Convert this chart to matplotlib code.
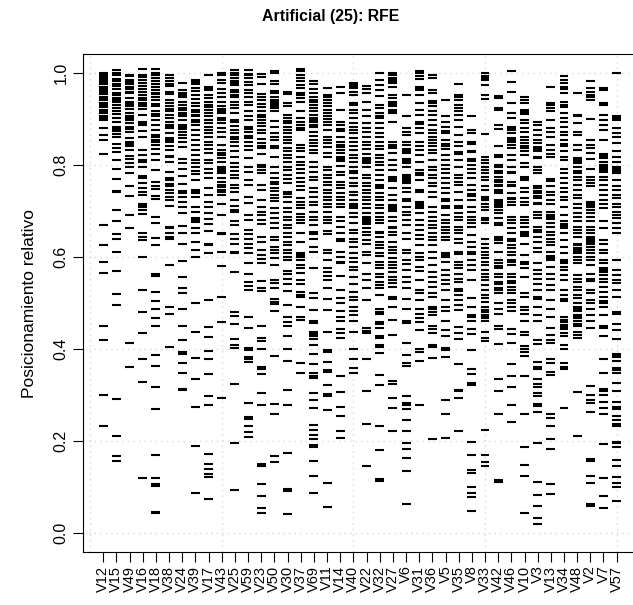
import matplotlib
matplotlib.use("Agg")
import matplotlib.pyplot as plt

plt.rcParams['font.family'] = ['Liberation Sans', 'DejaVu Sans']

title = "Artificial (25): RFE"
ylabel = "Posicionamiento relativo"
variables = ["V12", "V15", "V49", "V16", "V18", "V38", "V24", "V39", "V17", "V43",
             "V25", "V59", "V23", "V50", "V30", "V37", "V69", "V11", "V14", "V40",
             "V22", "V32", "V27", "V6", "V31", "V36", "V5", "V35", "V8", "V33",
             "V42", "V46", "V10", "V3", "V13", "V34", "V48", "V2", "V7", "V57"]
y_ticks = [0.0, 0.2, 0.4, 0.6, 0.8, 1.0]

v12 = [1.0, 0.996, 0.992, 0.988, 0.984, 0.98, 0.975, 0.97, 0.966, 0.962, 0.958, 0.953, 0.948,
       0.944, 0.94, 0.935, 0.93, 0.925, 0.92, 0.916, 0.912, 0.907, 0.902, 0.898, 0.879, 0.865,
       0.854, 0.823, 0.669, 0.626, 0.590, 0.566, 0.450, 0.420, 0.301, 0.232]
v15 = [1.006, 1.0, 0.994, 0.986, 0.981, 0.976, 0.971, 0.964, 0.956, 0.951, 0.946, 0.941, 0.936,
       0.93, 0.923, 0.916, 0.910, 0.901, 0.892, 0.883, 0.878, 0.873, 0.867, 0.861, 0.845, 0.836,
       0.827, 0.811, 0.790, 0.769, 0.744, 0.74, 0.702, 0.677, 0.650, 0.638, 0.610, 0.569, 0.519,
       0.495, 0.291, 0.212, 0.167, 0.156]
v49 = [0.995, 0.992, 0.985, 0.98, 0.975, 0.97, 0.964, 0.959, 0.956, 0.945, 0.937, 0.932, 0.927,
       0.922, 0.912, 0.907, 0.902, 0.897, 0.890, 0.883, 0.878, 0.872, 0.858, 0.85, 0.845, 0.84,
       0.832, 0.819, 0.812, 0.803, 0.795, 0.782, 0.753, 0.732, 0.692, 0.662, 0.414, 0.360]
v16 = [1.008, 0.995, 0.99, 0.985, 0.977, 0.971, 0.964, 0.959, 0.952, 0.946, 0.941, 0.934, 0.929,
       0.927, 0.921, 0.908, 0.894, 0.889, 0.887, 0.874, 0.860, 0.832, 0.821, 0.811, 0.807, 0.795,
       0.776, 0.772, 0.760, 0.749, 0.742, 0.734, 0.716, 0.712, 0.709, 0.702, 0.693, 0.653, 0.644,
       0.637, 0.600, 0.529, 0.480, 0.434, 0.378, 0.328, 0.121]
v18 = [1.008, 0.999, 0.994, 0.988, 0.981, 0.976, 0.970, 0.963, 0.957, 0.953, 0.948, 0.941, 0.932,
       0.927, 0.916, 0.911, 0.905, 0.898, 0.887, 0.876, 0.865, 0.86, 0.855, 0.85, 0.843, 0.834,
       0.823, 0.811, 0.789, 0.763, 0.754, 0.747, 0.732, 0.725, 0.687, 0.673, 0.642, 0.626, 0.563,
       0.559, 0.523, 0.504, 0.487, 0.467, 0.449, 0.388, 0.364, 0.317, 0.269, 0.171, 0.119, 0.106,
       0.103, 0.047, 0.043]
v38 = [0.995, 0.988, 0.981, 0.976, 0.971, 0.959, 0.954, 0.941, 0.934, 0.927, 0.921, 0.916, 0.909,
       0.901, 0.894, 0.887, 0.883, 0.879, 0.869, 0.858, 0.854, 0.85, 0.841, 0.832, 0.82, 0.816,
       0.807, 0.785, 0.771, 0.766, 0.758, 0.753, 0.745, 0.738, 0.731, 0.724, 0.711, 0.666, 0.662,
       0.651, 0.644, 0.639, 0.582, 0.492, 0.477, 0.404]
v24 = [0.977, 0.963, 0.956, 0.952, 0.947, 0.937, 0.930, 0.923, 0.918, 0.913, 0.908, 0.905, 0.898,
       0.887, 0.882, 0.877, 0.872, 0.865, 0.858, 0.850, 0.838, 0.813, 0.803, 0.792, 0.776, 0.758,
       0.744, 0.738, 0.731, 0.720, 0.709, 0.696, 0.667, 0.651, 0.629, 0.591, 0.557, 0.533, 0.521,
       0.486, 0.449, 0.419, 0.394, 0.389, 0.369, 0.349, 0.314, 0.311]
v39 = [0.985, 0.98, 0.975, 0.966, 0.96, 0.952, 0.943, 0.934, 0.927, 0.919, 0.914, 0.909, 0.905,
       0.898, 0.892, 0.887, 0.876, 0.865, 0.854, 0.843, 0.832, 0.821, 0.811, 0.803, 0.795, 0.787,
       0.780, 0.767, 0.746, 0.742, 0.738, 0.731, 0.709, 0.698, 0.684, 0.68, 0.676, 0.662, 0.651,
       0.633, 0.615, 0.600, 0.501, 0.438, 0.380, 0.336, 0.275, 0.190, 0.088]
v17 = [0.995, 0.970, 0.966, 0.963, 0.952, 0.945, 0.937, 0.930, 0.925, 0.919, 0.912, 0.905, 0.898,
       0.890, 0.883, 0.876, 0.869, 0.860, 0.850, 0.843, 0.834, 0.825, 0.811, 0.803, 0.792, 0.782,
       0.771, 0.749, 0.734, 0.720, 0.708, 0.695, 0.682, 0.671, 0.657, 0.629, 0.626, 0.608, 0.506,
       0.447, 0.427, 0.395, 0.378, 0.345, 0.297, 0.278, 0.173, 0.151, 0.140, 0.128, 0.122, 0.075]
v43 = [1.0, 0.996, 0.985, 0.977, 0.964, 0.956, 0.948, 0.937, 0.927, 0.922, 0.917, 0.912, 0.901,
       0.898, 0.890, 0.879, 0.872, 0.860, 0.843, 0.832, 0.826, 0.821, 0.814, 0.807, 0.796, 0.791,
       0.786, 0.782, 0.771, 0.763, 0.756, 0.751, 0.746, 0.742, 0.734, 0.715, 0.692, 0.653, 0.649,
       0.610, 0.580, 0.514, 0.458, 0.293]
v25 = [1.006, 1.0, 0.995, 0.988, 0.983, 0.978, 0.974, 0.963, 0.958, 0.952, 0.947, 0.937, 0.930,
       0.923, 0.912, 0.898, 0.892, 0.885, 0.876, 0.869, 0.861, 0.856, 0.850, 0.841, 0.831, 0.818,
       0.805, 0.796, 0.787, 0.778, 0.771, 0.756, 0.749, 0.742, 0.724, 0.711, 0.702, 0.698, 0.677,
       0.669, 0.650, 0.640, 0.628, 0.611, 0.608, 0.567, 0.480, 0.472, 0.454, 0.421, 0.409, 0.403,
       0.325, 0.195, 0.093]
v59 = [1.006, 0.998, 0.994, 0.988, 0.979, 0.974, 0.963, 0.956, 0.948, 0.937, 0.930, 0.916, 0.905,
       0.898, 0.883, 0.878, 0.872, 0.863, 0.858, 0.850, 0.841, 0.832, 0.814, 0.796, 0.785, 0.767,
       0.756, 0.731, 0.718, 0.690, 0.680, 0.658, 0.650, 0.640, 0.628, 0.619, 0.609, 0.586, 0.564,
       0.545, 0.537, 0.529, 0.469, 0.445, 0.402, 0.398, 0.383, 0.378, 0.372, 0.282, 0.253, 0.249,
       0.234, 0.220, 0.209]
v23 = [0.998, 0.990, 0.976, 0.954, 0.947, 0.940, 0.932, 0.925, 0.916, 0.908, 0.903, 0.898, 0.890,
       0.885, 0.876, 0.869, 0.856, 0.847, 0.840, 0.836, 0.824, 0.8, 0.796, 0.789, 0.783, 0.756,
       0.745, 0.724, 0.709, 0.698, 0.691, 0.680, 0.671, 0.644, 0.633, 0.616, 0.604, 0.595, 0.587,
       0.548, 0.533, 0.526, 0.451, 0.425, 0.417, 0.4, 0.361, 0.357, 0.345, 0.304, 0.278, 0.151,
       0.147, 0.107, 0.080, 0.054, 0.043]
v50 = [1.003, 0.999, 0.981, 0.976, 0.961, 0.956, 0.948, 0.941, 0.937, 0.932, 0.927, 0.923, 0.916,
       0.896, 0.883, 0.870, 0.860, 0.854, 0.841, 0.836, 0.818, 0.796, 0.782, 0.771, 0.763, 0.758,
       0.749, 0.744, 0.734, 0.727, 0.722, 0.706, 0.696, 0.684, 0.673, 0.662, 0.644, 0.637, 0.622,
       0.616, 0.608, 0.597, 0.582, 0.550, 0.544, 0.532, 0.508, 0.503, 0.498, 0.482, 0.386, 0.280,
       0.258, 0.167, 0.154]
v30 = [0.958, 0.954, 0.934, 0.927, 0.908, 0.901, 0.896, 0.890, 0.883, 0.876, 0.870, 0.861, 0.854,
       0.848, 0.836, 0.831, 0.821, 0.814, 0.807, 0.796, 0.789, 0.778, 0.769, 0.760, 0.742, 0.737,
       0.731, 0.720, 0.706, 0.698, 0.687, 0.680, 0.669, 0.662, 0.651, 0.644, 0.633, 0.626, 0.615,
       0.608, 0.599, 0.593, 0.570, 0.563, 0.552, 0.541, 0.527, 0.495, 0.469, 0.458, 0.451, 0.428,
       0.4, 0.375, 0.312, 0.278, 0.175, 0.096, 0.091, 0.041]
v37 = [1.008, 1.004, 0.995, 0.988, 0.981, 0.974, 0.966, 0.957, 0.952, 0.946, 0.937, 0.916, 0.901,
       0.894, 0.887, 0.879, 0.876, 0.843, 0.836, 0.829, 0.818, 0.807, 0.800, 0.792, 0.782, 0.771,
       0.763, 0.754, 0.745, 0.727, 0.720, 0.713, 0.706, 0.693, 0.687, 0.680, 0.673, 0.653, 0.633,
       0.608, 0.604, 0.600, 0.593, 0.582, 0.575, 0.566, 0.550, 0.542, 0.524, 0.517, 0.512, 0.492,
       0.469, 0.464, 0.369, 0.349]
v69 = [0.981, 0.976, 0.964, 0.956, 0.948, 0.941, 0.937, 0.930, 0.923, 0.916, 0.908, 0.901, 0.897,
       0.894, 0.887, 0.883, 0.872, 0.863, 0.854, 0.847, 0.840, 0.832, 0.825, 0.807, 0.796, 0.785,
       0.774, 0.767, 0.749, 0.742, 0.731, 0.720, 0.713, 0.698, 0.687, 0.680, 0.669, 0.655, 0.650,
       0.640, 0.622, 0.611, 0.575, 0.521, 0.510, 0.484, 0.460, 0.457, 0.436, 0.432, 0.428, 0.421,
       0.408, 0.389, 0.367, 0.347, 0.342, 0.338, 0.304, 0.289, 0.271, 0.235, 0.224, 0.213, 0.204,
       0.191, 0.187, 0.158, 0.125, 0.088]
v11 = [0.966, 0.952, 0.947, 0.941, 0.934, 0.927, 0.919, 0.912, 0.905, 0.9, 0.894, 0.887, 0.876,
       0.861, 0.854, 0.848, 0.838, 0.825, 0.818, 0.796, 0.789, 0.778, 0.771, 0.763, 0.756, 0.745,
       0.738, 0.731, 0.724, 0.716, 0.709, 0.698, 0.687, 0.680, 0.673, 0.657, 0.650, 0.616, 0.608,
       0.593, 0.575, 0.568, 0.558, 0.551, 0.532, 0.508, 0.484, 0.436, 0.398, 0.394, 0.371, 0.354,
       0.351, 0.321, 0.303, 0.299, 0.267, 0.110, 0.058]
v14 = [0.969, 0.956, 0.919, 0.894, 0.887, 0.878, 0.874, 0.861, 0.850, 0.843, 0.838, 0.832, 0.825,
       0.818, 0.813, 0.809, 0.798, 0.785, 0.778, 0.763, 0.756, 0.749, 0.738, 0.731, 0.724, 0.716,
       0.709, 0.687, 0.677, 0.666, 0.651, 0.639, 0.635, 0.611, 0.600, 0.590, 0.586, 0.558, 0.529,
       0.510, 0.5, 0.482, 0.469, 0.462, 0.443, 0.434, 0.423, 0.341, 0.306, 0.275, 0.254, 0.221,
       0.206]
v40 = [0.977, 0.973, 0.970, 0.966, 0.959, 0.952, 0.934, 0.930, 0.919, 0.912, 0.901, 0.890, 0.883,
       0.876, 0.869, 0.858, 0.850, 0.841, 0.832, 0.821, 0.814, 0.807, 0.796, 0.787, 0.783, 0.771,
       0.761, 0.753, 0.742, 0.734, 0.724, 0.716, 0.711, 0.706, 0.696, 0.687, 0.673, 0.658, 0.651,
       0.640, 0.633, 0.622, 0.608, 0.597, 0.590, 0.579, 0.571, 0.557, 0.542, 0.524, 0.512, 0.506,
       0.492, 0.483, 0.475, 0.460, 0.436, 0.4, 0.378, 0.359, 0.349]
v22 = [0.971, 0.964, 0.957, 0.937, 0.919, 0.905, 0.890, 0.879, 0.872, 0.861, 0.850, 0.843, 0.834,
       0.824, 0.814, 0.811, 0.807, 0.803, 0.796, 0.778, 0.771, 0.760, 0.753, 0.745, 0.738, 0.731,
       0.724, 0.715, 0.706, 0.695, 0.687, 0.683, 0.679, 0.675, 0.671, 0.662, 0.655, 0.648, 0.637,
       0.629, 0.611, 0.604, 0.587, 0.564, 0.550, 0.532, 0.506, 0.445, 0.440, 0.434, 0.378, 0.310,
       0.238, 0.146]
v32 = [0.999, 0.985, 0.974, 0.963, 0.950, 0.930, 0.923, 0.912, 0.907, 0.901, 0.890, 0.879, 0.870,
       0.861, 0.850, 0.841, 0.834, 0.821, 0.814, 0.807, 0.800, 0.789, 0.778, 0.767, 0.756, 0.753,
       0.749, 0.738, 0.731, 0.724, 0.713, 0.706, 0.695, 0.687, 0.680, 0.673, 0.655, 0.651, 0.644,
       0.633, 0.626, 0.619, 0.608, 0.601, 0.590, 0.582, 0.575, 0.564, 0.556, 0.546, 0.539, 0.532,
       0.517, 0.488, 0.481, 0.476, 0.459, 0.454, 0.446, 0.428, 0.424, 0.408, 0.404, 0.391, 0.343,
       0.323, 0.234, 0.180, 0.118, 0.114]
v27 = [1.0, 0.996, 0.988, 0.985, 0.980, 0.977, 0.970, 0.952, 0.945, 0.937, 0.933, 0.930, 0.927,
       0.919, 0.915, 0.912, 0.894, 0.850, 0.843, 0.840, 0.836, 0.825, 0.811, 0.800, 0.789, 0.774,
       0.770, 0.765, 0.749, 0.734, 0.724, 0.713, 0.709, 0.705, 0.700, 0.687, 0.677, 0.666, 0.662,
       0.655, 0.648, 0.633, 0.622, 0.615, 0.608, 0.597, 0.590, 0.582, 0.575, 0.568, 0.557, 0.550,
       0.544, 0.535, 0.514, 0.508, 0.492, 0.464, 0.430, 0.331, 0.325, 0.293, 0.273, 0.221]
v6 = [0.952, 0.905, 0.879, 0.872, 0.865, 0.850, 0.843, 0.834, 0.830, 0.825, 0.813, 0.809, 0.803,
      0.796, 0.778, 0.774, 0.770, 0.765, 0.760, 0.749, 0.742, 0.726, 0.722, 0.709, 0.698, 0.691,
      0.680, 0.669, 0.651, 0.638, 0.615, 0.608, 0.593, 0.585, 0.571, 0.557, 0.546, 0.532, 0.508,
      0.488, 0.461, 0.457, 0.414, 0.388, 0.369, 0.364, 0.297, 0.282, 0.278, 0.269, 0.245, 0.221,
      0.197, 0.182, 0.164, 0.136, 0.064]
v31 = [1.003, 0.999, 0.992, 0.986, 0.970, 0.966, 0.963, 0.952, 0.934, 0.919, 0.908, 0.892, 0.888,
       0.879, 0.869, 0.850, 0.840, 0.832, 0.821, 0.807, 0.789, 0.782, 0.778, 0.767, 0.745, 0.740,
       0.720, 0.716, 0.711, 0.706, 0.695, 0.680, 0.669, 0.658, 0.648, 0.640, 0.626, 0.609, 0.600,
       0.593, 0.579, 0.570, 0.550, 0.528, 0.521, 0.506, 0.488, 0.477, 0.467, 0.458, 0.441, 0.4,
       0.393, 0.375, 0.278]
v36 = [0.995, 0.988, 0.963, 0.956, 0.939, 0.935, 0.927, 0.916, 0.908, 0.898, 0.887, 0.876, 0.869,
       0.861, 0.854, 0.847, 0.840, 0.832, 0.825, 0.811, 0.796, 0.789, 0.778, 0.771, 0.760, 0.753,
       0.742, 0.731, 0.709, 0.698, 0.687, 0.677, 0.669, 0.662, 0.651, 0.644, 0.637, 0.626, 0.611,
       0.597, 0.582, 0.568, 0.557, 0.546, 0.535, 0.521, 0.514, 0.492, 0.486, 0.480, 0.475, 0.449,
       0.444, 0.434, 0.409, 0.405, 0.380, 0.204]
v5 = [0.941, 0.905, 0.894, 0.883, 0.874, 0.870, 0.854, 0.845, 0.841, 0.834, 0.821, 0.811, 0.800,
      0.792, 0.782, 0.771, 0.760, 0.749, 0.738, 0.726, 0.722, 0.711, 0.707, 0.691, 0.680, 0.673,
      0.666, 0.658, 0.651, 0.644, 0.637, 0.608, 0.604, 0.600, 0.590, 0.571, 0.561, 0.550, 0.542,
      0.528, 0.506, 0.492, 0.482, 0.460, 0.441, 0.428, 0.403, 0.399, 0.382, 0.290, 0.260, 0.206]
v35 = [0.976, 0.952, 0.947, 0.941, 0.930, 0.923, 0.916, 0.908, 0.898, 0.883, 0.865, 0.850, 0.840,
       0.827, 0.823, 0.811, 0.796, 0.778, 0.771, 0.763, 0.756, 0.742, 0.724, 0.711, 0.707, 0.695,
       0.687, 0.680, 0.666, 0.658, 0.651, 0.640, 0.631, 0.610, 0.606, 0.590, 0.582, 0.575, 0.564,
       0.553, 0.546, 0.530, 0.526, 0.517, 0.506, 0.495, 0.484, 0.447, 0.434, 0.421, 0.367, 0.312,
       0.308, 0.293, 0.223]
v8 = [0.905, 0.876, 0.869, 0.849, 0.845, 0.831, 0.827, 0.813, 0.809, 0.800, 0.792, 0.782, 0.771,
      0.756, 0.745, 0.737, 0.733, 0.724, 0.709, 0.698, 0.687, 0.680, 0.673, 0.666, 0.648, 0.633,
      0.622, 0.610, 0.606, 0.593, 0.582, 0.571, 0.550, 0.510, 0.492, 0.474, 0.470, 0.460, 0.443,
      0.432, 0.397, 0.356, 0.345, 0.327, 0.323, 0.199, 0.171, 0.138, 0.130, 0.101, 0.088, 0.078,
      0.049]
v33 = [0.999, 0.992, 0.988, 0.985, 0.974, 0.952, 0.942, 0.867, 0.818, 0.811, 0.803, 0.796, 0.789,
       0.782, 0.774, 0.767, 0.753, 0.745, 0.731, 0.727, 0.724, 0.716, 0.709, 0.702, 0.684, 0.680,
       0.673, 0.640, 0.629, 0.619, 0.611, 0.604, 0.597, 0.590, 0.582, 0.571, 0.564, 0.557, 0.550,
       0.539, 0.528, 0.517, 0.510, 0.503, 0.492, 0.484, 0.480, 0.475, 0.471, 0.467, 0.462, 0.438,
       0.425, 0.417, 0.225, 0.169, 0.154, 0.147]
v42 = [0.950, 0.945, 0.923, 0.919, 0.887, 0.877, 0.841, 0.821, 0.818, 0.800, 0.796, 0.787, 0.783,
       0.774, 0.767, 0.763, 0.756, 0.753, 0.745, 0.742, 0.738, 0.724, 0.722, 0.718, 0.713, 0.709,
       0.702, 0.695, 0.684, 0.673, 0.669, 0.644, 0.640, 0.637, 0.631, 0.611, 0.593, 0.586, 0.581,
       0.575, 0.564, 0.557, 0.546, 0.542, 0.532, 0.528, 0.521, 0.499, 0.488, 0.477, 0.450, 0.443,
       0.410, 0.334, 0.310, 0.260, 0.116, 0.112]
v46 = [1.003, 0.979, 0.959, 0.934, 0.913, 0.901, 0.883, 0.879, 0.876, 0.869, 0.858, 0.854, 0.850,
       0.843, 0.836, 0.821, 0.811, 0.796, 0.785, 0.782, 0.763, 0.756, 0.753, 0.738, 0.729, 0.725,
       0.720, 0.713, 0.687, 0.680, 0.673, 0.662, 0.651, 0.639, 0.635, 0.626, 0.619, 0.611, 0.604,
       0.593, 0.590, 0.582, 0.564, 0.557, 0.548, 0.544, 0.535, 0.528, 0.521, 0.506, 0.499, 0.492,
       0.482, 0.443, 0.432, 0.414, 0.367, 0.341, 0.317, 0.278, 0.241]
v10 = [0.947, 0.941, 0.934, 0.919, 0.914, 0.910, 0.898, 0.890, 0.879, 0.872, 0.861, 0.854, 0.847,
       0.840, 0.836, 0.829, 0.821, 0.803, 0.796, 0.774, 0.770, 0.767, 0.749, 0.742, 0.727, 0.720,
       0.713, 0.687, 0.680, 0.673, 0.666, 0.655, 0.650, 0.646, 0.629, 0.604, 0.588, 0.584, 0.575,
       0.557, 0.521, 0.514, 0.492, 0.484, 0.477, 0.460, 0.436, 0.430, 0.406, 0.400, 0.393, 0.386,
       0.341, 0.260, 0.187, 0.149, 0.125, 0.043]
v3 = [0.894, 0.887, 0.876, 0.865, 0.854, 0.847, 0.838, 0.834, 0.830, 0.818, 0.814, 0.796, 0.789,
      0.782, 0.754, 0.749, 0.744, 0.738, 0.732, 0.727, 0.718, 0.714, 0.698, 0.691, 0.684, 0.666,
      0.658, 0.655, 0.644, 0.633, 0.619, 0.611, 0.586, 0.571, 0.564, 0.553, 0.541, 0.529, 0.514,
      0.508, 0.492, 0.475, 0.460, 0.419, 0.410, 0.371, 0.361, 0.357, 0.336, 0.325, 0.317, 0.304,
      0.297, 0.281, 0.277, 0.264, 0.197, 0.112, 0.084, 0.060, 0.034, 0.021]
v13 = [0.969, 0.934, 0.930, 0.923, 0.916, 0.898, 0.879, 0.872, 0.861, 0.843, 0.832, 0.823, 0.818,
       0.769, 0.765, 0.753, 0.742, 0.734, 0.724, 0.716, 0.698, 0.691, 0.686, 0.682, 0.673, 0.666,
       0.655, 0.648, 0.640, 0.633, 0.626, 0.611, 0.602, 0.598, 0.593, 0.579, 0.564, 0.553, 0.539,
       0.528, 0.506, 0.488, 0.469, 0.445, 0.430, 0.419, 0.414, 0.378, 0.369, 0.351, 0.343, 0.260,
       0.251, 0.234, 0.204, 0.184, 0.108, 0.086]
v34 = [0.993, 0.985, 0.977, 0.968, 0.964, 0.956, 0.937, 0.929, 0.925, 0.912, 0.901, 0.894, 0.883,
       0.872, 0.865, 0.854, 0.845, 0.841, 0.829, 0.818, 0.811, 0.792, 0.782, 0.771, 0.760, 0.749,
       0.742, 0.731, 0.724, 0.709, 0.691, 0.677, 0.671, 0.667, 0.662, 0.651, 0.637, 0.622, 0.609,
       0.593, 0.588, 0.586, 0.579, 0.571, 0.561, 0.550, 0.528, 0.517, 0.508, 0.504, 0.469, 0.464,
       0.459, 0.452, 0.448, 0.444, 0.434, 0.428, 0.408, 0.400, 0.369, 0.361, 0.357, 0.271]
v48 = [0.956, 0.908, 0.905, 0.890, 0.872, 0.865, 0.843, 0.832, 0.814, 0.810, 0.806, 0.803, 0.796,
       0.787, 0.783, 0.774, 0.767, 0.756, 0.745, 0.734, 0.727, 0.716, 0.706, 0.695, 0.687, 0.677,
       0.666, 0.658, 0.651, 0.644, 0.629, 0.625, 0.620, 0.615, 0.611, 0.608, 0.600, 0.593, 0.586,
       0.561, 0.553, 0.546, 0.535, 0.528, 0.517, 0.510, 0.499, 0.492, 0.486, 0.482, 0.475, 0.471,
       0.467, 0.462, 0.454, 0.449, 0.436, 0.430, 0.425, 0.306, 0.212]
v2 = [0.981, 0.966, 0.959, 0.952, 0.947, 0.941, 0.899, 0.854, 0.843, 0.836, 0.825, 0.812, 0.792,
      0.773, 0.767, 0.760, 0.753, 0.720, 0.716, 0.712, 0.709, 0.702, 0.695, 0.687, 0.677, 0.666,
      0.658, 0.651, 0.644, 0.640, 0.636, 0.633, 0.629, 0.622, 0.615, 0.608, 0.600, 0.593, 0.582,
      0.564, 0.552, 0.548, 0.528, 0.521, 0.506, 0.499, 0.486, 0.475, 0.462, 0.445, 0.319, 0.301,
      0.290, 0.282, 0.264, 0.162, 0.156, 0.125, 0.110, 0.064, 0.060]
v7 = [0.966, 0.963, 0.934, 0.930, 0.908, 0.898, 0.887, 0.876, 0.854, 0.823, 0.819, 0.814, 0.807,
      0.800, 0.796, 0.792, 0.789, 0.785, 0.774, 0.767, 0.756, 0.745, 0.734, 0.724, 0.716, 0.706,
      0.677, 0.662, 0.637, 0.629, 0.615, 0.608, 0.593, 0.586, 0.575, 0.571, 0.568, 0.561, 0.553,
      0.546, 0.535, 0.524, 0.514, 0.505, 0.501, 0.492, 0.473, 0.449, 0.445, 0.428, 0.378, 0.347,
      0.313, 0.309, 0.301, 0.284, 0.271, 0.258, 0.193, 0.119, 0.082, 0.054]
v57 = [1.0, 0.906, 0.902, 0.898, 0.879, 0.870, 0.860, 0.848, 0.829, 0.818, 0.807, 0.796, 0.792,
       0.788, 0.785, 0.782, 0.767, 0.753, 0.745, 0.734, 0.727, 0.716, 0.709, 0.698, 0.691, 0.684,
       0.673, 0.662, 0.651, 0.593, 0.571, 0.561, 0.550, 0.544, 0.529, 0.514, 0.480, 0.476, 0.454,
       0.441, 0.421, 0.390, 0.386, 0.382, 0.373, 0.358, 0.354, 0.347, 0.327, 0.310, 0.285, 0.274,
       0.270, 0.254, 0.247, 0.238, 0.234, 0.199, 0.195, 0.188, 0.160, 0.147, 0.123, 0.110, 0.101,
       0.071]

series = [v12, v15, v49, v16, v18, v38, v24, v39, v17, v43,
          v25, v59, v23, v50, v30, v37, v69, v11, v14, v40,
          v22, v32, v27, v6, v31, v36, v5, v35, v8, v33,
          v42, v46, v10, v3, v13, v34, v48, v2, v7, v57]

W, H = 633, 605
fig = plt.figure(figsize=(W / 100, H / 100), dpi=100)
left, right, top, bottom = 82.7, 637.2, 54.3, 551.7
ax = fig.add_axes([left / W, 1 - bottom / H, (right - left) / W, (bottom - top) / H])

n = len(variables)
ax.set_xlim(1 - 0.04 * (n - 1), n + 0.04 * (n - 1))
ax.set_ylim(-0.04, 1.04)

# grid (dotted light grey)
for gx in [0, 10, 20, 30, 40]:
    ax.axvline(gx, color='#d8d8d8', linestyle=(0, (1, 3)), linewidth=1.0, zorder=0)
for gy in y_ticks:
    ax.axhline(gy, color='#d8d8d8', linestyle=(0, (1, 3)), linewidth=1.0, zorder=0)

half = 0.34
for i, vals in enumerate(series):
    xpos = i + 1
    ax.hlines(vals, xpos - half, xpos + half, colors='black', linewidth=1.5, zorder=2)

ax.set_xticks(range(1, n + 1))
ax.set_xticklabels(variables, rotation=90, fontsize=10.5)
ax.set_yticks(y_ticks)
ax.set_yticklabels([f"{t:.1f}" for t in y_ticks], rotation=90, va='center', fontsize=11.5)
ax.tick_params(axis='both', length=7, width=0.8, pad=3)
for s in ax.spines.values():
    s.set_linewidth(0.8)

fig.text(331 / W, 1 - 17 / H, title, fontsize=11.4, fontweight='bold', ha='center', va='center')
fig.text(30 / W, 1 - 303 / H, ylabel, fontsize=12.5, rotation=90, ha='center', va='center')

fig.savefig("out.png", dpi=100)
